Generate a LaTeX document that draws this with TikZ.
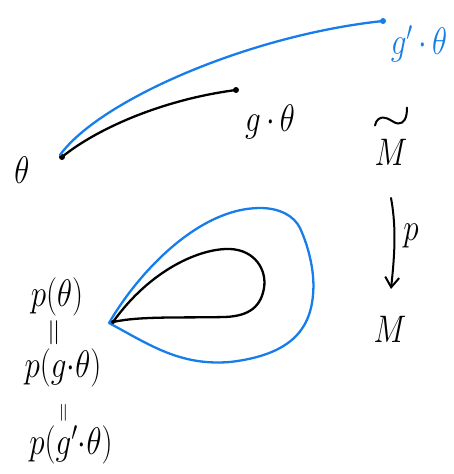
\documentclass[tikz,border=0pt]{standalone}
\usetikzlibrary{arrows.meta}
\definecolor{penblue}{RGB}{22,125,235}
\begin{document}
\begin{tikzpicture}[x=1pt,y=-1pt,
  ink/.style={line width=2.3pt,line cap=round,line join=round},
  lbl/.style={inner sep=0pt,font=\huge,xscale=1.5,yscale=1.85},
  dot/.style={circle,fill,inner sep=0pt,minimum size=6pt}]
\useasboundingbox (0,0) rectangle (453,474);
% points
\node[dot] (o) at (62,157) {};
\node[dot] (go) at (236,90) {};
\node[dot,penblue] (gpo) at (383,21) {};
\coordinate (ob) at (60,155);
% curves
\draw[ink] (o.center) .. controls (95,130) and (160,100) .. (go.center);
\draw[ink,penblue] (ob) .. controls (100,100) and (250,35) .. (gpo.center);
% labels
\node[lbl] (th) at (22,170) {$\theta$};
\node[lbl] (gth) at (270,122) {$g\,{\cdot}\,\theta$};
\node[lbl,penblue] (gpth) at (419,44) {$g'\,{\cdot}\,\theta$};
\node[lbl] (Mt) at (391,152) {$M$};
\draw[line width=2pt,line cap=round] ([shift={(-16,-13)}]Mt.north)
  .. controls ([shift={(-15,-19)}]Mt.north) and ([shift={(-11,-21)}]Mt.north) .. ([shift={(-8,-21)}]Mt.north)
  .. controls ([shift={(-2,-21)}]Mt.north) and ([shift={(3,-15)}]Mt.north) .. ([shift={(7,-15)}]Mt.north)
  .. controls ([shift={(13,-15)}]Mt.north) and ([shift={(16,-20)}]Mt.north) .. ([shift={(16,-31)}]Mt.north);
\node[lbl] (M) at (390,329) {$M$};
\coordinate (ps) at (391,198);
\coordinate (pe) at (391,289);
\draw[line width=2pt,line cap=round,-{Straight Barb[length=10pt,width=14pt]}] (ps) .. controls (397,230) and (394,260) .. (pe);
\node[lbl] (p) at (411,236) {$p$};
% loops
\coordinate (tip) at (113,322);
\coordinate (tipb) at (109,323);
\draw[ink] (tip) .. controls (150,270) and (200,248) .. (230,249)
  .. controls (255,250) and (267,270) .. (264,288)
  .. controls (261,306) and (250,316) .. (225,317)
  .. controls (180,318) and (140,316) .. (tip);
\draw[ink,penblue] (tipb) .. controls (140,270) and (200,208) .. (260,208)
  .. controls (280,208) and (294,216) .. (300,228)
  .. controls (310,250) and (315,275) .. (313,295)
  .. controls (310,330) and (290,355) .. (230,362)
  .. controls (180,366) and (150,345) .. (tipb);
\node[dot,minimum size=4pt] (tipdot) at (tip) {};
% left labels
\node[lbl] (p1) at (57,297) {$p(\theta)$};
\node[lbl] (e1) at (56,333) {\rotatebox{90}{$=$}};
\node[lbl] (p2) at (63,368) {$p(g{\cdot}\theta)$};
\node[lbl,scale=0.7] (e2) at (65,413) {\rotatebox{90}{$=$}};
\node[lbl] (p3) at (71,445) {$p(g'{\cdot}\theta)$};
\end{tikzpicture}
\end{document}
